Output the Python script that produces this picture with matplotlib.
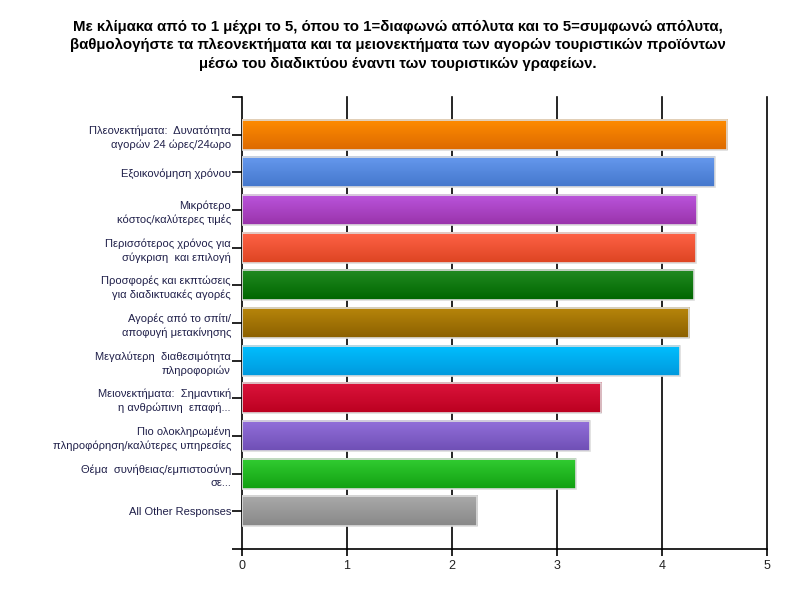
import matplotlib
matplotlib.use("Agg")
import matplotlib.pyplot as plt
import numpy as np
from matplotlib.colors import LinearSegmentedColormap

categories = [
    "Πλεονεκτήματα:  Δυνατότητα\nαγορών 24 ώρες/24ωρο",
    "Εξοικονόμηση χρόνου",
    "Μικρότερο\nκόστος/καλύτερες τιμές",
    "Περισσότερος χρόνος για\nσύγκριση  και επιλογή",
    "Προσφορές και εκπτώσεις\nγια διαδικτυακές αγορές",
    "Αγορές από το σπίτι/\nαποφυγή μετακίνησης",
    "Μεγαλύτερη  διαθεσιμότητα\nπληροφοριών",
    "Μειονεκτήματα:  Σημαντική\nη ανθρώπινη  επαφή...",
    "Πιο ολοκληρωμένη\nπληροφόρηση/καλύτερες υπηρεσίες",
    "Θέμα  συνήθειας/εμπιστοσύνη\nσε...",
    "All Other Responses",
]
values = [4.62, 4.50, 4.33, 4.32, 4.30, 4.26, 4.17, 3.42, 3.31, 3.18, 2.24]
top_colors = ["#ff8c00", "#6699ee", "#bb55dd", "#ff6347", "#228b22", "#b8860b",
              "#00bfff", "#dc143c", "#9370db", "#32cd32", "#aaaaaa"]
bottom_colors = ["#dd6a00", "#4477cc", "#9933aa", "#dd4422", "#006600", "#8b6000",
                 "#0099dd", "#bb0020", "#6f4fb5", "#11a011", "#888888"]
xticks = [0, 1, 2, 3, 4, 5]
title = ("Με κλίμακα από το 1 μέχρι το 5, όπου το 1=διαφωνώ απόλυτα και το 5=συμφωνώ απόλυτα,\n"
         "βαθμολογήστε τα πλεονεκτήματα και τα μειονεκτήματα των αγορών τουριστικών προϊόντων\n"
         "μέσω του διαδικτύου έναντι των τουριστικών γραφείων.")

plt.rcParams['font.family'] = ['Liberation Sans', 'DejaVu Sans']

fig = plt.figure(figsize=(8, 6), dpi=100)
ax = fig.add_axes([0.3025, 0.085, 0.95875 - 0.3025, 0.8383 - 0.085])

n = len(categories)
pos = np.arange(n)
h = 0.8
grad = np.linspace(0, 1, 64).reshape(-1, 1)
for i, (v, c1, c2) in enumerate(zip(values, top_colors, bottom_colors)):
    cmap = LinearSegmentedColormap.from_list(f"g{i}", [c1, c2])
    ax.imshow(grad, cmap=cmap, aspect='auto', extent=[0, v, i + h / 2, i - h / 2],
              zorder=3, interpolation='bilinear')
    ax.barh(i, v, height=h, facecolor='none', edgecolor='#dddddd', linewidth=1.2, zorder=4)

ax.set_xlim(0, 5)
ax.set_ylim(n, -1)
ax.set_yticks(pos)
ax.set_yticklabels(categories, fontsize=8, color='#20204a', linespacing=1.4)
ax.set_yticks([-1, n], minor=True)
ax.tick_params(axis='y', which='both', length=7, width=1.2, color='black', pad=1)
ax.set_xticks(xticks)
ax.set_xticklabels([str(t) for t in xticks], fontsize=9, color='#222222')
ax.tick_params(axis='x', length=5, width=1.2, color='black', pad=3)

for t in xticks[1:]:
    ax.axvline(t, color='black', linewidth=1.2, zorder=1, clip_on=False)

ax.spines['top'].set_visible(False)
ax.spines['right'].set_visible(False)
ax.spines['left'].set_linewidth(1.2)
ax.spines['bottom'].set_linewidth(1.2)

fig.text(0.497, 0.967, title, ha='center', va='top', fontsize=10.8, fontweight='bold',
         linespacing=1.4)

fig.savefig("out.png", dpi=100)
